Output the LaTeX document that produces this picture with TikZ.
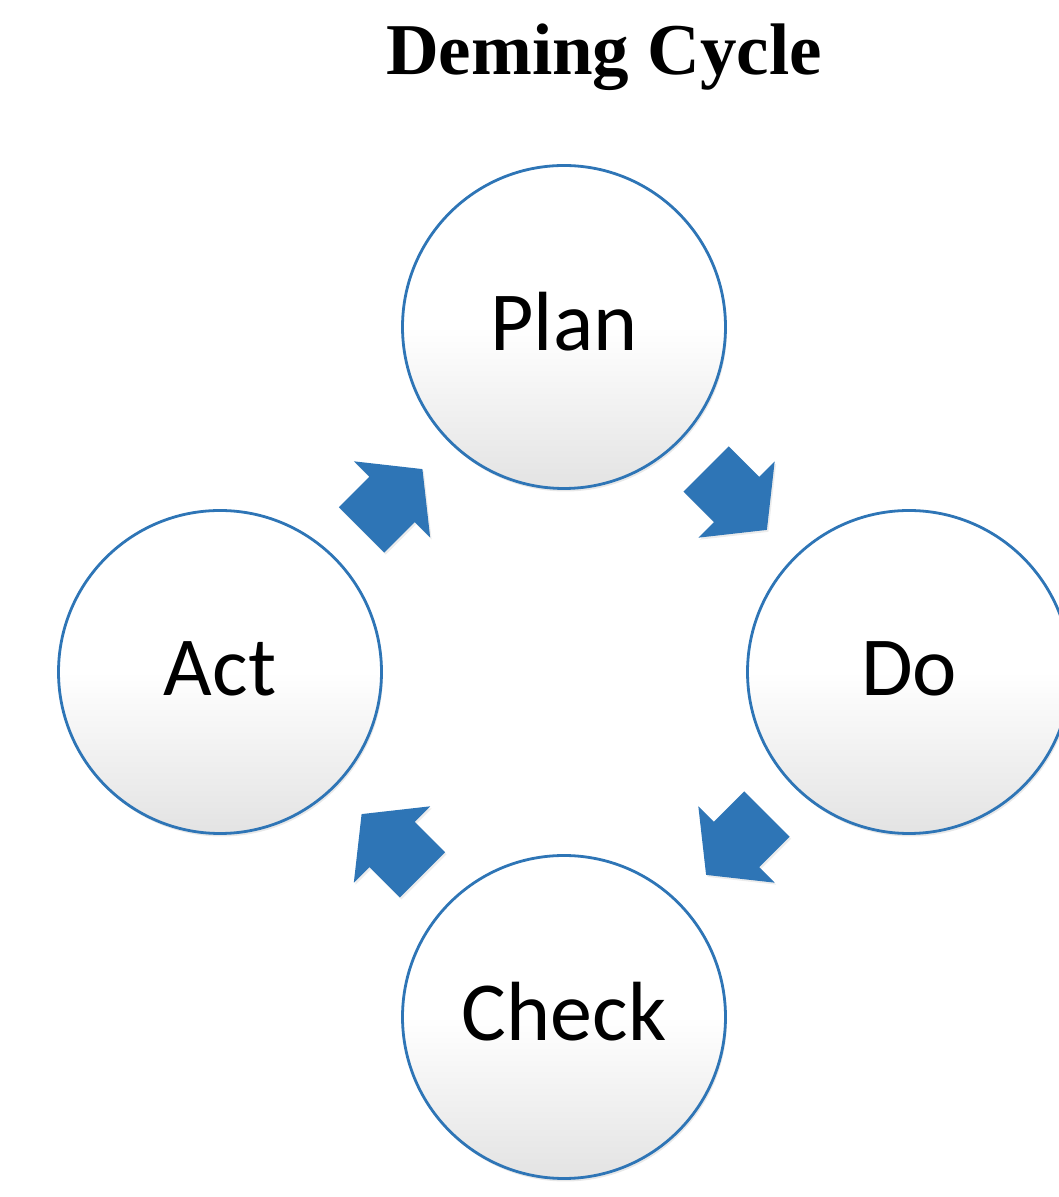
\documentclass[tikz,border=0pt]{standalone}
\usepackage{fontspec}
\setmainfont{Liberation Serif}
\newfontfamily\phasefont{Carlito}
\usepackage{tikz}
\usetikzlibrary{calc,shadows}
\definecolor{cycleblue}{RGB}{46,117,182}

\tikzset{
  phase/.style={circle, draw=cycleblue, line width=2.8pt,
    minimum size=323pt, inner sep=0pt,
    top color=white, bottom color=black!11, middle color=white,
    drop shadow={shadow xshift=1.5pt, shadow yshift=-3pt, opacity=0.18},
    font=\phasefont\fontsize{84}{84}\selectfont,
    text height=48pt, text depth=0pt},
  turn/.style={fill=cycleblue,
    drop shadow={shadow xshift=1.5pt, shadow yshift=-2pt, opacity=0.15}}
}

\begin{document}
\begin{tikzpicture}[x=1pt,y=1pt]

  \useasboundingbox (0,0) rectangle (1059,1197);

  %,  Title, 
  \node[font=\bfseries\fontsize{73}{73}\selectfont,anchor=base] (title)
    at (604,1122) {Deming Cycle};

  %,  The four phases, 
  \foreach \nm/\x/\y/\txt in {plan/564/870/Plan, do/909/525/Do,
                              check/564/180/Check, act/220/525/Act}
    \node[phase] (\nm) at (\x,\y) {\txt};

  %,  Block arrows between the phases, 
  \foreach \a/\b/\ang in {plan/do/-45, do/check/-135,
                          check/act/135, act/plan/45}
    \fill[turn, shift={($(\a)!0.5!(\b)$)}, rotate=\ang]
      (-43,-32) -- (0,-32) -- (0,-54) -- (43,0) -- (0,54) -- (0,32)
      -- (-43,32) -- cycle;

\end{tikzpicture}
\end{document}
